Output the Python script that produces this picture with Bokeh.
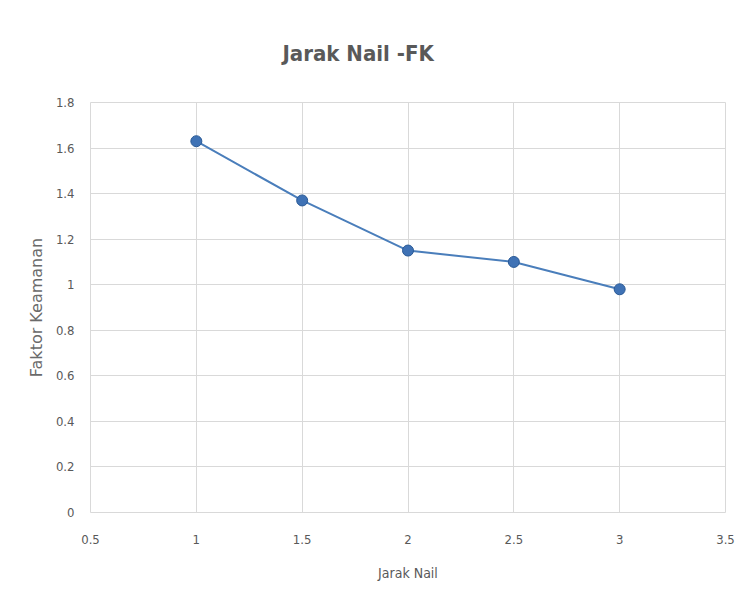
from bokeh.plotting import figure
from bokeh.models import Range1d, FixedTicker, ColumnDataSource
from bokeh.embed import file_html
from bokeh.resources import INLINE

# Data
jarak_nail = [1.0, 1.5, 2.0, 2.5, 3.0]
faktor_keamanan = [1.63, 1.37, 1.15, 1.10, 0.98]
x_ticks = [0.5, 1, 1.5, 2, 2.5, 3, 3.5]
y_ticks = [0, 0.2, 0.4, 0.6, 0.8, 1.0, 1.2, 1.4, 1.6, 1.8]

FONT = "DejaVu Sans Condensed"
GRAY = "#595959"

p = figure(width=736, height=607, output_backend="svg", toolbar_location=None,
           x_range=Range1d(0.5, 3.5), y_range=Range1d(0, 1.8),
           min_border_left=90, min_border_right=11, min_border_top=102,
           min_border_bottom=95)

p.title.text = "Jarak Nail -FK"
p.title.align = "left"
p.title.text_font = FONT
p.title.text_font_size = "22px"
p.title.text_font_style = "bold"
p.title.text_color = GRAY
p.title.offset = 192
p.title.standoff = 73

p.xaxis.ticker = FixedTicker(ticks=x_ticks)
p.yaxis.ticker = FixedTicker(ticks=y_ticks)
p.xaxis.major_label_overrides = {0.5: "0.5", 1: "1", 1.5: "1.5", 2: "2", 2.5: "2.5", 3: "3", 3.5: "3.5"}
p.yaxis.major_label_overrides = {0: "0", 0.2: "0.2", 0.4: "0.4", 0.6: "0.6", 0.8: "0.8", 1.0: "1",
                                 1.2: "1.2", 1.4: "1.4", 1.6: "1.6", 1.8: "1.8"}

for ax in (p.xaxis, p.yaxis):
    ax.axis_line_color = None
    ax.major_tick_line_color = None
    ax.minor_tick_line_color = None
    ax.major_label_text_font = FONT
    ax.major_label_text_font_size = "13px"
    ax.major_label_text_color = GRAY
    ax.axis_label_text_font_style = "normal"
    ax.axis_label_text_color = GRAY

p.xaxis.axis_label = "Jarak Nail"
p.xaxis.axis_label_text_font = FONT
p.xaxis.axis_label_text_font_size = "14px"
p.yaxis.axis_label = "Faktor Keamanan"
p.yaxis.axis_label_text_font = "DejaVu Sans"
p.yaxis.axis_label_text_font_size = "16px"
p.yaxis.axis_label_text_color = "#6a6a6a"
p.xaxis.major_label_standoff = 16
p.yaxis.major_label_standoff = 10
p.xaxis.axis_label_standoff = 18
p.yaxis.axis_label_standoff = 7

p.grid.grid_line_color = "#d9d9d9"
p.grid.grid_line_width = 1
p.outline_line_color = "#d9d9d9"
p.background_fill_color = "white"
p.border_fill_color = "white"

src = ColumnDataSource(dict(x=jarak_nail, y=faktor_keamanan))
p.line("x", "y", source=src, line_color="#4a7ebb", line_width=2)
p.scatter("x", "y", source=src, marker="circle", size=11,
          fill_color="#3f72b5", line_color="#2a5a96", line_width=1)

open("out.html", "w").write(file_html(p, INLINE))
